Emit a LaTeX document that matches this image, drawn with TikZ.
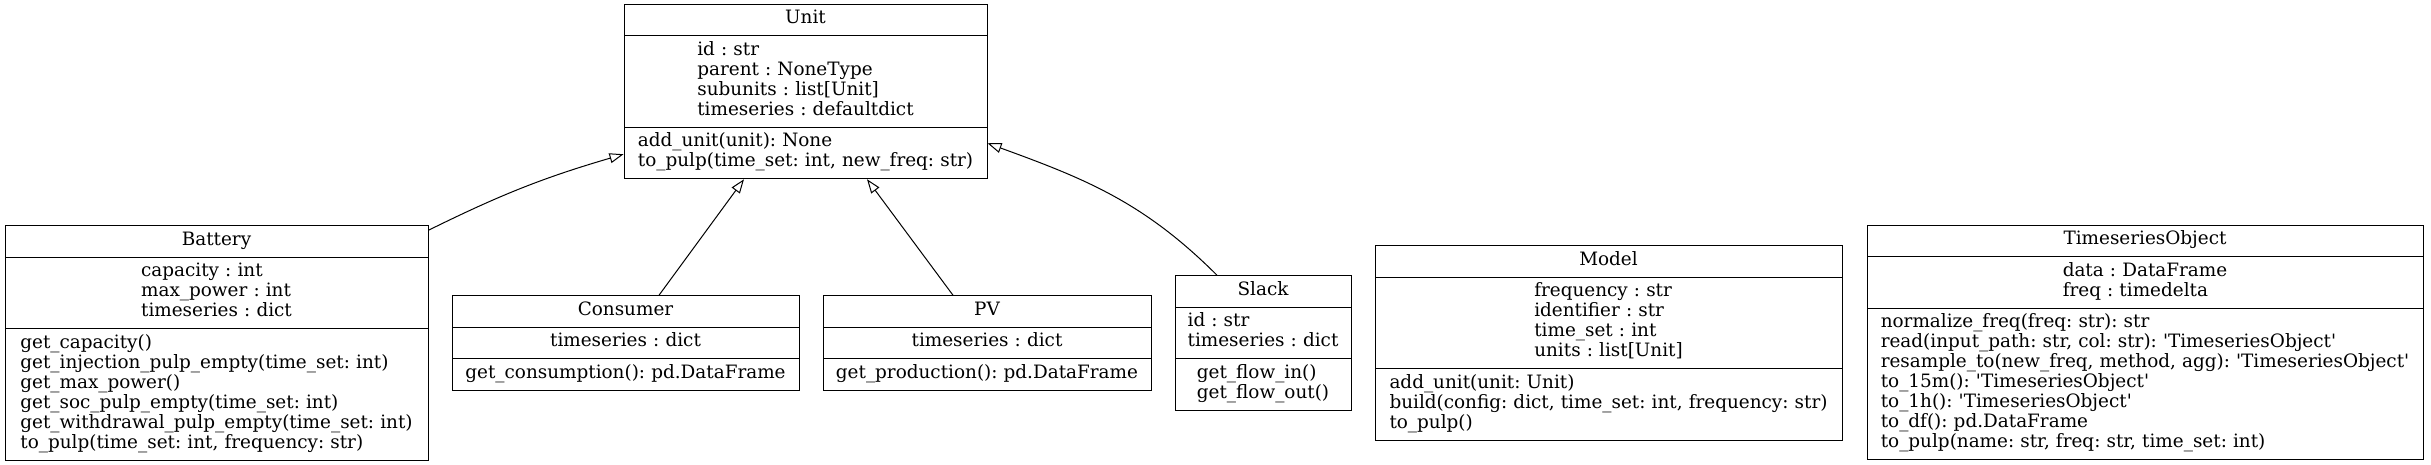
\documentclass[tikz,border=0pt]{standalone}
\usepackage{fontspec}
\setmainfont{DejaVu Serif}[Ligatures=TeXOff]
\usepackage{tikz}
\usetikzlibrary{positioning, shapes.multipart, arrows.meta}

\newcommand{\rows}[1]{\begin{tabular}{@{}l@{}}#1\end{tabular}}

\tikzset{
  umlclass/.style={draw, line width=1pt, rectangle split, rectangle split parts=3,
    inner xsep=11pt, inner ysep=5.25pt, align=center,
    font=\fontsize{18.4}{20}\selectfont\frenchspacing},
  inherit/.style={-{Triangle[open, length=14pt, width=10pt]}, line width=1pt}
}

\begin{document}
\begin{tikzpicture}[x=1pt, y=1pt]
			\useasboundingbox (0,0) rectangle (2431,465);

			\node[umlclass, text width=341pt] (unit) at (805.5,373.5)
				{\rows{Unit}
				\nodepart{two}\rows{id : str\\ parent : NoneType\\ subunits : list[Unit]\\ timeseries : defaultdict}
				\nodepart{three}\raggedright\rows{add\_unit(unit): None\\ to\_pulp(time\_set: int, new\_freq: str)}};

			\node[umlclass, text width=401pt] (battery) at (216.5,122)
				{\rows{Battery}
				\nodepart{two}\rows{capacity : int\\ max\_power : int\\ timeseries : dict}
				\nodepart{three}\raggedright\rows{get\_capacity()\\ get\_injection\_pulp\_empty(time\_set: int)\\ get\_max\_power()\\ get\_soc\_pulp\_empty(time\_set: int)\\ get\_withdrawal\_pulp\_empty(time\_set: int)\\ to\_pulp(time\_set: int, frequency: str)}};

			\node[umlclass, text width=325pt] (consumer) at (625.5,122)
				{\rows{Consumer}
				\nodepart{two}\rows{timeseries : dict}
				\nodepart{three}\rows{get\_consumption(): pd.DataFrame}};

			\node[umlclass, text width=306pt] (pv) at (987,122)
				{\rows{PV}
				\nodepart{two}\rows{timeseries : dict}
				\nodepart{three}\rows{get\_production(): pd.DataFrame}};

			\node[umlclass, text width=154pt] (slack) at (1263,122)
				{\rows{Slack}
				\nodepart{two}\raggedright\rows{id : str\\ timeseries : dict}
				\nodepart{three}\rows{get\_flow\_in()\\ get\_flow\_out()}};

			\node[umlclass, text width=445pt] (model) at (1608.5,122)
				{\rows{Model}
				\nodepart{two}\rows{frequency : str\\ identifier : str\\ time\_set : int\\ units : list[Unit]}
				\nodepart{three}\raggedright\rows{add\_unit(unit: Unit)\\ build(config: dict, time\_set: int, frequency: str)\\ to\_pulp()}};

			\node[umlclass, text width=534pt] (tsobject) at (2145,122.5)
				{\rows{TimeseriesObject}
				\nodepart{two}\rows{data : DataFrame\\ freq : timedelta}
				\nodepart{three}\raggedright\rows{normalize\_freq(freq: str): str\\ read(input\_path: str, col: str): 'TimeseriesObject'\\ resample\_to(new\_freq, method, agg): 'TimeseriesObject'\\ to\_15m(): 'TimeseriesObject'\\ to\_1h(): 'TimeseriesObject'\\ to\_df(): pd.DataFrame\\ to\_pulp(name: str, freq: str, time\_set: int)}};

			\draw[inherit] ([yshift=-5pt]battery.north east) to[bend left=5] ([yshift=25pt]unit.south west);
			\draw[inherit] ([xshift=33.5pt]consumer.north) -- ([xshift=-61.5pt]unit.south);
			\draw[inherit] ([xshift=-34pt]pv.north) -- ([xshift=61.5pt]unit.south);
			\draw[inherit] ([xshift=-46pt]slack.north) to[out=135, in=-20] ([yshift=36pt]unit.south east);

		\end{tikzpicture}
\end{document}
